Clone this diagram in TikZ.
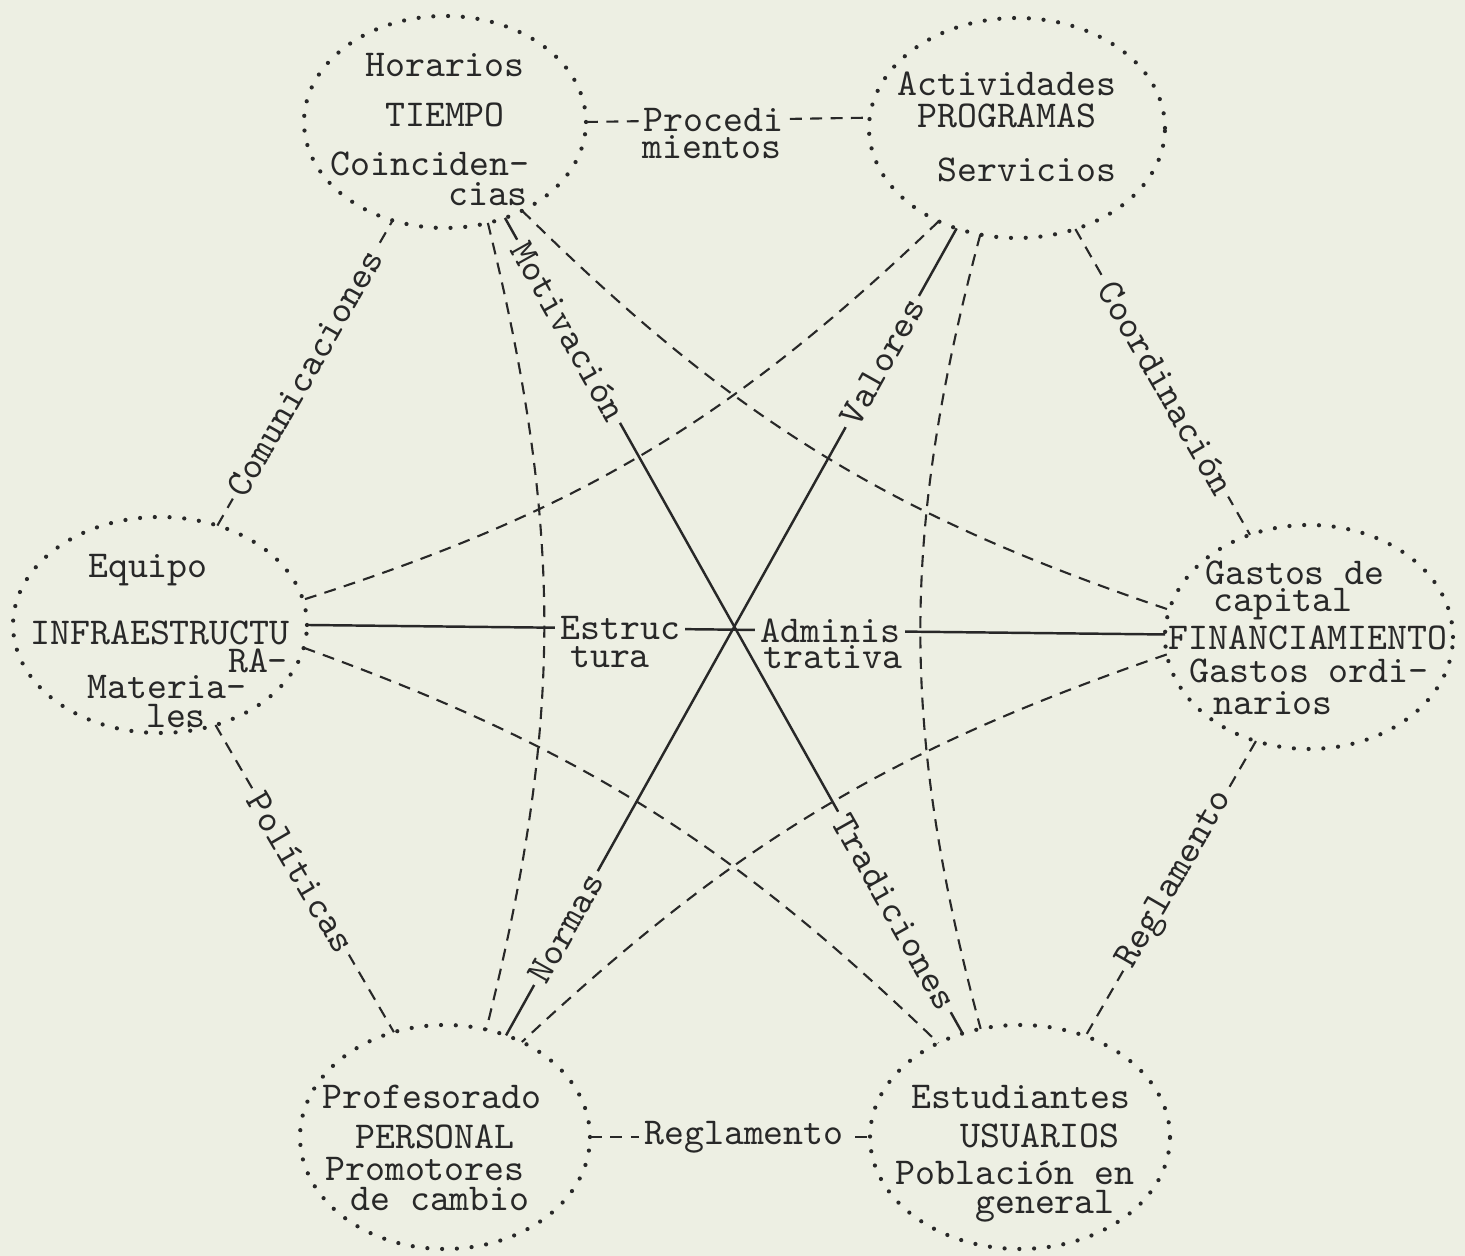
\documentclass[tikz,border=0pt]{standalone}
\usetikzlibrary{shapes.geometric}
\definecolor{paper}{RGB}{237,239,227}
\definecolor{ink}{RGB}{40,40,40}
\tikzset{
    bubble/.style={ellipse, draw=ink, line width=1.2pt, dash pattern=on 0pt off 4.2pt,
        line cap=round, inner sep=0pt, outer sep=0pt},
    txt/.style={font=\ttfamily\fontsize{10.8}{12}\selectfont, text=ink, inner sep=0pt},
    dashlink/.style={draw=ink, line width=0.6pt, dash pattern=on 3.4pt off 2.4pt},
    solidlink/.style={draw=ink, line width=0.7pt},
    linklbl/.style={txt, fill=paper, inner sep=1.5pt},
}

\begin{document}
\begin{tikzpicture}
    % Paper background, fixes the page size
    \fill[paper] (0, 0) rectangle (14.65, 12.56);
    \useasboundingbox (0, 0) rectangle (14.65, 12.56);

    % Dotted ellipses
    \node[bubble, minimum width=2.82cm, minimum height=2.12cm] (tiempo) at (4.45, 11.34) {};
    \node[bubble, minimum width=2.96cm, minimum height=2.20cm] (programas) at (10.17, 11.28) {};
    \node[bubble, minimum width=2.94cm, minimum height=2.16cm] (infra) at (1.60, 6.31) {};
    \node[bubble, minimum width=2.88cm, minimum height=2.24cm] (fin) at (13.09, 6.19) {};
    \node[bubble, minimum width=2.90cm, minimum height=2.24cm] (personal) at (4.45, 1.19) {};
    \node[bubble, minimum width=3.00cm, minimum height=2.24cm] (usuarios) at (10.20, 1.19) {};

    % Texts in the ellipses
    \node[txt] (tiempoA) at (4.45, 11.91) {Horarios};
    \node[txt] (tiempoB) at (4.45, 11.41) {TIEMPO};
    \node[txt] (tiempoC) at (4.30, 10.92) {Coinciden-};
    \node[txt] (tiempoD) at (4.88, 10.62) {cias};

    \node[txt] (programasA) at (10.07, 11.72) {Actividades};
    \node[txt] (programasB) at (10.07, 11.40) {PROGRAMAS};
    \node[txt] (programasC) at (10.27, 10.86) {Servicios};

    \node[txt] (infraA) at (1.48, 6.86) {Equipo};
    \node[txt] (infraB) at (1.60, 6.23) {INFRAESTRUCTU};
    \node[txt] (infraC) at (2.58, 5.95) {RA-};
    \node[txt] (infraD) at (1.67, 5.69) {Materia-};
    \node[txt] (infraE) at (1.76, 5.40) {les};

    \node[txt] (finA) at (12.95, 6.83) {Gastos de};
    \node[txt] (finB) at (12.83, 6.52) {capital};
    \node[txt] (finC) at (13.08, 6.18) {FINANCIAMIENTO};
    \node[txt] (finD) at (13.09, 5.85) {Gastos ordi-};
    \node[txt] (finE) at (12.73, 5.53) {narios};

    \node[txt] (personalA) at (4.32, 1.59) {Profesorado};
    \node[txt] (personalB) at (4.35, 1.19) {PERSONAL};
    \node[txt] (personalC) at (4.25, 0.87) {Promotores};
    \node[txt] (personalD) at (4.40, 0.57) {de cambio};

    \node[txt] (usuariosA) at (10.21, 1.59) {Estudiantes};
    \node[txt] (usuariosB) at (10.40, 1.20) {USUARIOS};
    \node[txt] (usuariosC) at (10.15, 0.83) {Población en};
    \node[txt] (usuariosD) at (10.45, 0.50) {general};

    % Outer ring of dashed links
    \draw[dashlink] (tiempo.east) -- node[linklbl, pos=0.45] (procA) {Procedi} (programas.176);
    \node[txt] (procB) at (7.12, 11.09) {mientos};
    \draw[dashlink] (infra.60) -- node[linklbl, sloped, pos=0.5] (comunic) {Comunicaciones} (tiempo.242);
    \draw[dashlink] (programas.300) -- node[linklbl, sloped, pos=0.52] (coord) {Coordinación} (fin.120);
    \draw[dashlink] (fin.243) -- node[linklbl, sloped, pos=0.47] (reglaA) {Reglamento} (usuarios.57);
    \draw[dashlink] (personal.east) -- node[linklbl, pos=0.55] (reglaB) {Reglamento} (usuarios.west);
    \draw[dashlink] (infra.299) -- node[linklbl, sloped, pos=0.48] (politic) {Políticas} (personal.116);

    % Solid star through the middle
    \draw[solidlink] (infra.east) -- node[linklbl, pos=0.365] (estruc) {Estruc}
        node[linklbl, pos=0.61] (admin) {Adminis} (fin.179);
    \node[txt] (tura) at (6.10, 5.99) {tura};
    \node[txt] (trativa) at (8.33, 5.99) {trativa};
    \draw[solidlink] (tiempo.302) -- node[linklbl, sloped, pos=0.139] (motiv) {Motivación}
        node[linklbl, sloped, pos=0.851] (tradic) {Tradiciones} (usuarios.119);
    \draw[solidlink] (programas.239) -- node[linklbl, sloped, pos=0.165] (valores) {Valores}
        node[linklbl, sloped, pos=0.867] (normas) {Normas} (personal.59);

    % Dashed curves between every second ellipse
    \draw[dashlink] (tiempo.293) to[bend left=14] (personal.69);
    \draw[dashlink] (tiempo.311) to[bend right=13] (fin.169);
    \draw[dashlink] (programas.230) to[bend left=13] (infra.10);
    \draw[dashlink] (programas.251) to[bend right=15] (usuarios.110);
    \draw[dashlink] (infra.351) to[bend left=12] (usuarios.131);
    \draw[dashlink] (fin.187) to[bend right=12] (personal.51);
\end{tikzpicture}
\end{document}
